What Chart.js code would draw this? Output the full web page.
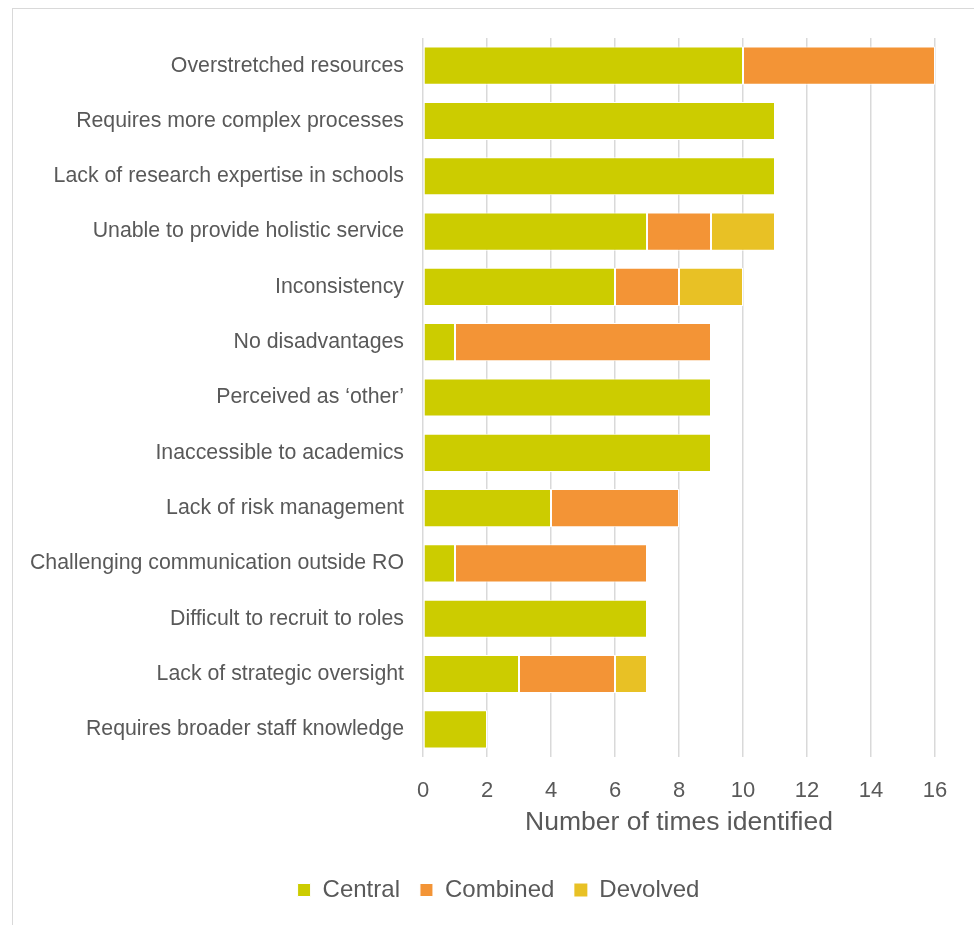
<!DOCTYPE html>
<html>
<head>
<meta charset="utf-8">
<script src="https://cdn.jsdelivr.net/npm/chart.js@4/dist/chart.umd.min.js"></script>
<style>
  html, body { margin: 0; padding: 0; background: #ffffff; overflow: hidden; }
  #frame {
    position: absolute; left: 12px; top: 8px; width: 980px; height: 940px;
    border-left: 1.5px solid #d9d9d9; border-top: 1.5px solid #d9d9d9;
  }
  #chart { position: absolute; left: 0; top: 0; }
</style>
</head>
<body>
<div id="frame"></div>
<canvas id="chart" width="974" height="925"></canvas>
<script>
// Reported disadvantages of each research-office model
const categories = [
  'Overstretched resources',
  'Requires more complex processes',
  'Lack of research expertise in schools',
  'Unable to provide holistic service',
  'Inconsistency',
  'No disadvantages',
  'Perceived as \u2018other\u2019',
  'Inaccessible to academics',
  'Lack of risk management',
  'Challenging communication outside RO',
  'Difficult to recruit to roles',
  'Lack of strategic oversight',
  'Requires broader staff knowledge'
];
const central  = [10, 11, 11, 7, 6, 1, 9, 9, 4, 1, 7, 3, 2];
const combined = [ 6,  0,  0, 2, 2, 8, 0, 0, 4, 6, 0, 3, 0];
const devolved = [ 0,  0,  0, 2, 2, 0, 0, 0, 0, 0, 0, 1, 0];
const xTicks = [0, 2, 4, 6, 8, 10, 12, 14, 16];

const seriesNames = ['Central', 'Combined', 'Devolved'];
const seriesColors = ['#cccc00', '#f39436', '#e8c125'];
const textColor = '#595959';
const fontFamily = '"Liberation Sans", Arial, Helvetica, sans-serif';

const makeSet = (label, data, color) => ({
  label,
  data,
  backgroundColor: color,
  borderColor: '#ffffff',
  borderWidth: ctx => (ctx.raw ? 1 : 0),
  borderSkipped: false,
  categoryPercentage: 1,
  barPercentage: 0.69
});

// Centre the legend under the whole figure rather than under the padded box
const legendShift = {
  id: 'legendShift',
  afterLayout(chart) {
    if (chart.legend) {
      chart.legend.left += 31;
      chart.legend.right += 31;
    }
  }
};

new Chart(document.getElementById('chart'), {
  type: 'bar',
  data: {
    labels: categories,
    datasets: [
      makeSet(seriesNames[0], central, seriesColors[0]),
      makeSet(seriesNames[1], combined, seriesColors[1]),
      makeSet(seriesNames[2], devolved, seriesColors[2])
    ]
  },
  plugins: [legendShift],
  options: {
    indexAxis: 'y',
    responsive: false,
    animation: false,
    devicePixelRatio: 1,
    layout: { padding: { left: 0, right: 39, top: 38, bottom: 13 } },
    plugins: {
      tooltip: { enabled: false },
      legend: {
        position: 'bottom',
        align: 'center',
        labels: {
          color: textColor,
          font: { family: fontFamily, size: 24 },
          boxWidth: 13,
          boxHeight: 13,
          padding: 20
        }
      }
    },
    scales: {
      x: {
        stacked: true,
        min: 0,
        max: 16,
        afterBuildTicks: scale => { scale.ticks = xTicks.map(v => ({ value: v })); },
        afterFit: scale => { scale.height = 101; },
        grid: { color: '#d9d9d9', lineWidth: 1.5, drawTicks: false },
        border: { display: false },
        ticks: {
          color: textColor,
          font: { family: fontFamily, size: 22 },
          padding: 21
        },
        title: {
          display: true,
          text: 'Number of times identified',
          color: textColor,
          font: { family: fontFamily, size: 26.5 },
          padding: { top: 4, bottom: 19 }
        }
      },
      y: {
        stacked: true,
        afterFit: scale => { scale.width = 423; },
        grid: { display: false, drawTicks: false },
        border: { display: false },
        ticks: {
          color: textColor,
          font: { family: fontFamily, size: 21.3 },
          padding: 19,
          autoSkip: false
        }
      }
    }
  }
});
</script>
</body>
</html>
